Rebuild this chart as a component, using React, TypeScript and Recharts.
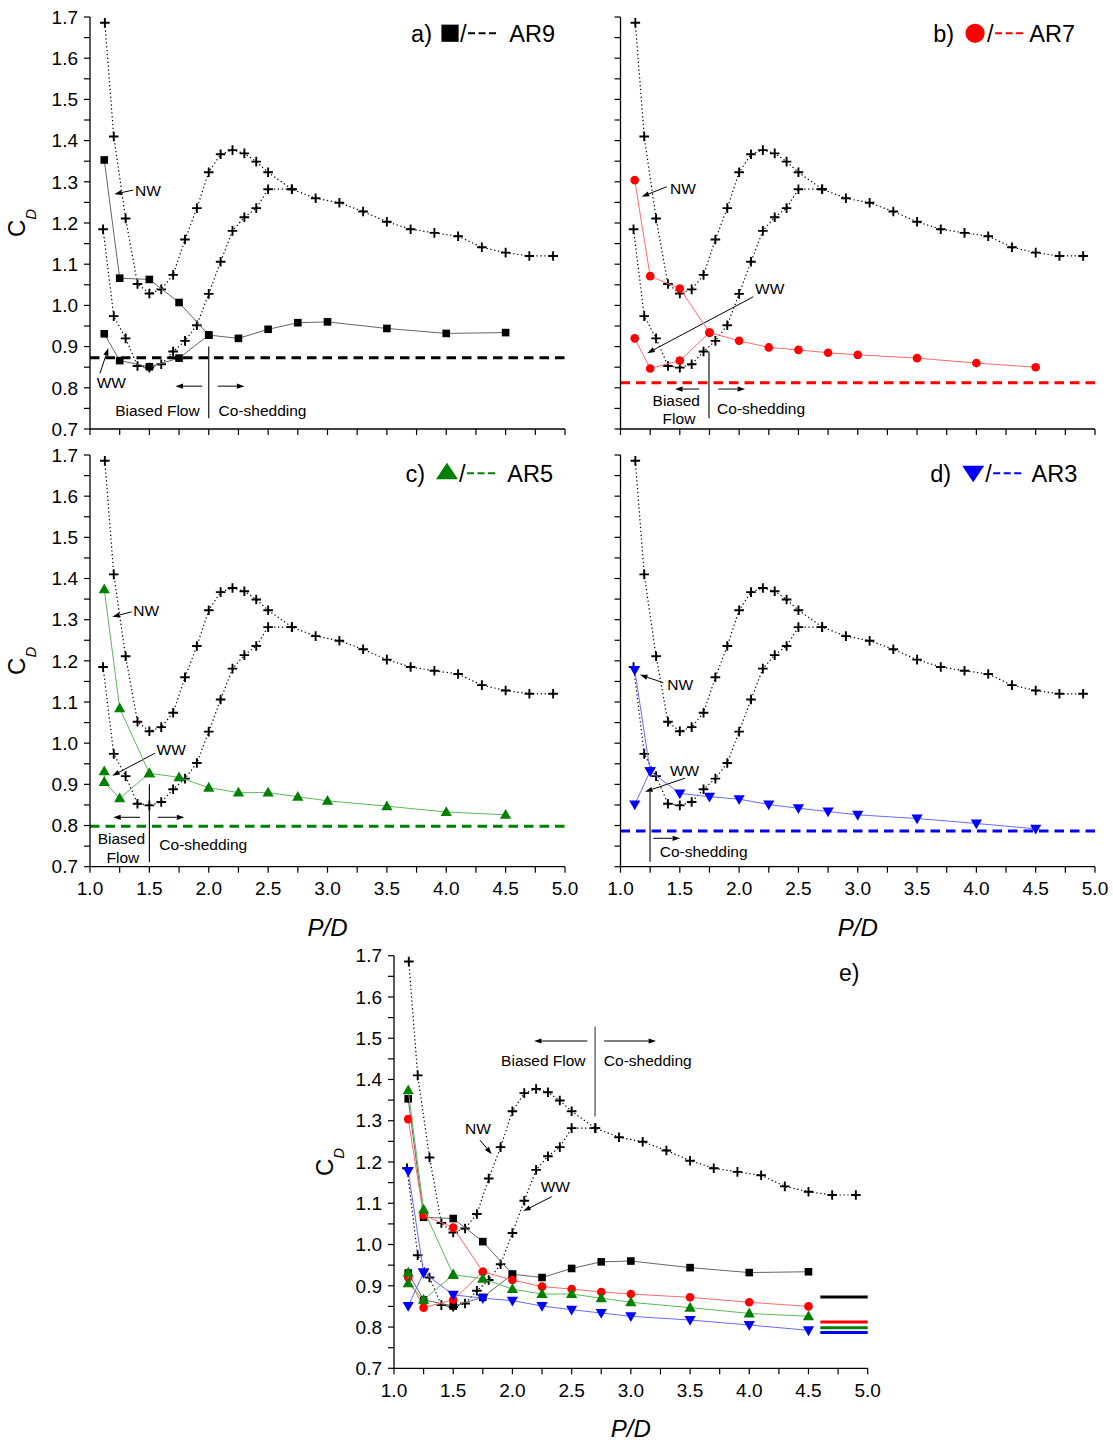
import React from 'react';
import { ScatterChart, Scatter, XAxis, YAxis, ReferenceLine, ReferenceDot, Label } from 'recharts';

const FONT = '"Liberation Sans", Arial, Helvetica, sans-serif';

// ---------- ticks ----------
const X_TICKS = [1, 1.25, 1.5, 1.75, 2, 2.25, 2.5, 2.75, 3, 3.25, 3.5, 3.75, 4, 4.25, 4.5, 4.75, 5];
const Y_TICKS = [0.7, 0.75, 0.8, 0.85, 0.9, 0.95, 1.0, 1.05, 1.1, 1.15, 1.2, 1.25, 1.3, 1.35, 1.4, 1.45, 1.5, 1.55, 1.6, 1.65, 1.7];

// ---------- reference data (crosses) ----------
const CROSS_NW_X = [1.125, 1.2, 1.3, 1.4, 1.5, 1.6, 1.7, 1.8, 1.9, 2.0, 2.1, 2.2, 2.3, 2.4, 2.5, 2.7, 2.9, 3.1, 3.3, 3.5, 3.7, 3.9, 4.1, 4.3, 4.5, 4.7, 4.9];
const CROSS_NW_Y = [1.686, 1.41, 1.211, 1.052, 1.029, 1.039, 1.074, 1.16, 1.236, 1.323, 1.367, 1.377, 1.369, 1.349, 1.323, 1.282, 1.26, 1.249, 1.228, 1.203, 1.185, 1.176, 1.168, 1.141, 1.128, 1.12, 1.12];
const CROSS_WW_X = [1.11, 1.2, 1.3, 1.4, 1.5, 1.6, 1.7, 1.8, 1.9, 2.0, 2.1, 2.2, 2.3, 2.4, 2.5, 2.7];
const CROSS_WW_Y = [1.185, 0.974, 0.92, 0.853, 0.849, 0.857, 0.888, 0.914, 0.952, 1.028, 1.106, 1.181, 1.214, 1.236, 1.282, 1.282];

// ---------- AR series ----------
const AR_NW_X = [1.12, 1.25, 1.5, 1.75, 2.0, 2.25, 2.5, 2.75, 3.0, 3.5, 4.0, 4.5];
const AR9_NW_Y = [1.353, 1.066, 1.063, 1.007, 0.928, 0.92, 0.942, 0.958, 0.96, 0.944, 0.932, 0.934];
const AR9_WW_X = [1.12, 1.25, 1.5, 1.75, 2.0];
const AR9_WW_Y = [0.931, 0.866, 0.851, 0.872, 0.928];
const AR7_NW_Y = [1.304, 1.071, 1.041, 0.934, 0.914, 0.898, 0.892, 0.885, 0.88, 0.872, 0.86, 0.85];
const AR7_WW_X = [1.12, 1.25, 1.5, 1.75];
const AR7_WW_Y = [0.92, 0.847, 0.866, 0.934];
const AR5_NW_Y = [1.374, 1.085, 0.927, 0.917, 0.892, 0.88, 0.88, 0.87, 0.86, 0.847, 0.833, 0.826];
const AR5_WW_X = [1.12, 1.12, 1.25, 1.5];
const AR5_WW_Y = [0.932, 0.906, 0.866, 0.927];
const AR3_NW_Y = [1.178, 0.932, 0.878, 0.87, 0.864, 0.851, 0.842, 0.834, 0.826, 0.817, 0.805, 0.792];
const AR3_WW_X = [1.12, 1.25];
const AR3_WW_Y = [0.851, 0.932];

// isolated cylinder values
const ISO_AR9 = 0.873;
const ISO_AR7 = 0.812;
const ISO_AR5 = 0.798;
const ISO_AR3 = 0.787;
const SHORT_LINE_X = [4.6, 5.0];

const zip = (xs: number[], ys: number[]) => xs.map((x, i) => ({ x, y: ys[i] }));

const crossNW = zip(CROSS_NW_X, CROSS_NW_Y);
const crossWW = zip(CROSS_WW_X, CROSS_WW_Y);

const RED = '#ff0000';
const GREEN = '#008000';
const BLUE = '#0000ff';

type Kind = 'square' | 'circle' | 'tri' | 'invtri';

const markerShape = (kind: Kind, color: string) => (p: any) => {
  const { cx, cy } = p;
  if (cx == null || cy == null) return <g />;
  if (kind === 'square') return <rect x={cx - 3.8} y={cy - 3.8} width={7.6} height={7.6} fill={color} />;
  if (kind === 'circle') return <circle cx={cx} cy={cy} r={4.3} fill={color} />;
  if (kind === 'tri')
    return <polygon points={`${cx},${cy - 5.8} ${cx - 5.6},${cy + 4} ${cx + 5.6},${cy + 4}`} fill={color} />;
  return <polygon points={`${cx - 5.6},${cy - 4} ${cx + 5.6},${cy - 4} ${cx},${cy + 5.8}`} fill={color} />;
};

const crossShape = (p: any) => {
  const { cx, cy } = p;
  if (cx == null || cy == null) return <g />;
  return (
    <path d={`M${cx - 4.8},${cy}H${cx + 4.8}M${cx},${cy - 4.8}V${cy + 4.8}`} stroke="#000" strokeWidth={1.9} fill="none" />
  );
};

type Series = { key: string; nw: { x: number; y: number }[]; ww: { x: number; y: number }[]; kind: Kind; color: string; lineColor: string; iso: number };

const SERIES: Record<string, Series> = {
  ar9: { key: 'ar9', nw: zip(AR_NW_X, AR9_NW_Y), ww: zip(AR9_WW_X, AR9_WW_Y), kind: 'square', color: '#000', lineColor: '#666', iso: ISO_AR9 },
  ar7: { key: 'ar7', nw: zip(AR_NW_X, AR7_NW_Y), ww: zip(AR7_WW_X, AR7_WW_Y), kind: 'circle', color: RED, lineColor: '#ff6a6a', iso: ISO_AR7 },
  ar5: { key: 'ar5', nw: zip(AR_NW_X, AR5_NW_Y), ww: zip(AR5_WW_X, AR5_WW_Y), kind: 'tri', color: GREEN, lineColor: '#5cb85c', iso: ISO_AR5 },
  ar3: { key: 'ar3', nw: zip(AR_NW_X, AR3_NW_Y), ww: zip(AR3_WW_X, AR3_WW_Y), kind: 'invtri', color: BLUE, lineColor: '#6a6aff', iso: ISO_AR3 },
};

// ---------- annotations (data coordinates) ----------
type Ann = {
  texts: { x: number; y: number; t: string; a: 'start' | 'middle' | 'end'; size?: number }[];
  arrows: number[][];
  lines: number[][];
  lineColor?: string;
};

const ANN_A: Ann = {
  texts: [
    { x: 1.379, y: 1.278, t: 'NW', a: 'start' },
    { x: 1.056, y: 0.813, t: 'WW', a: 'start' },
    { x: 1.568, y: 0.746, t: 'Biased Flow', a: 'middle' },
    { x: 2.453, y: 0.746, t: 'Co-shedding', a: 'middle' },
  ],
  arrows: [
    [1.365, 1.28, 1.205, 1.27],
    [1.084, 0.835, 1.154, 0.896],
    [1.946, 0.804, 1.72, 0.804],
    [2.075, 0.804, 2.3, 0.804],
  ],
  lines: [[2.0, 0.9, 2.0, 0.726]],
};
const ANN_B: Ann = {
  texts: [
    { x: 1.417, y: 1.284, t: 'NW', a: 'start' },
    { x: 2.134, y: 1.04, t: 'WW', a: 'start' },
    { x: 1.47, y: 0.77, t: 'Biased', a: 'middle' },
    { x: 1.493, y: 0.726, t: 'Flow', a: 'middle' },
    { x: 2.185, y: 0.75, t: 'Co-shedding', a: 'middle' },
  ],
  arrows: [
    [1.39, 1.288, 1.179, 1.264],
    [2.12, 1.021, 1.226, 0.884],
    [1.664, 0.797, 1.46, 0.797],
    [1.825, 0.797, 2.05, 0.797],
  ],
  lines: [[1.746, 0.888, 1.746, 0.726]],
};
const ANN_C: Ann = {
  texts: [
    { x: 1.365, y: 1.322, t: 'NW', a: 'start' },
    { x: 1.561, y: 0.985, t: 'WW', a: 'start' },
    { x: 1.264, y: 0.769, t: 'Biased', a: 'middle' },
    { x: 1.277, y: 0.722, t: 'Flow', a: 'middle' },
    { x: 1.954, y: 0.753, t: 'Co-shedding', a: 'middle' },
  ],
  arrows: [
    [1.351, 1.319, 1.188, 1.307],
    [1.547, 0.9755, 1.188, 0.921],
    [1.421, 0.82, 1.196, 0.82],
    [1.57, 0.82, 1.794, 0.82],
  ],
  lines: [[1.5, 0.9, 1.5, 0.711]],
};
const ANN_D: Ann = {
  texts: [
    { x: 1.395, y: 1.142, t: 'NW', a: 'start' },
    { x: 1.417, y: 0.933, t: 'WW', a: 'start' },
    { x: 1.701, y: 0.736, t: 'Co-shedding', a: 'middle' },
  ],
  arrows: [
    [1.361, 1.147, 1.164, 1.166],
    [1.544, 0.915, 1.207, 0.882],
    [1.277, 0.769, 1.502, 0.769],
  ],
  lines: [[1.249, 0.882, 1.249, 0.712]],
};
const ANN_E: Ann = {
  texts: [
    { x: 2.261, y: 1.447, t: 'Biased Flow', a: 'middle' },
    { x: 3.143, y: 1.447, t: 'Co-shedding', a: 'middle' },
    { x: 1.6, y: 1.28, t: 'NW', a: 'start' },
    { x: 2.239, y: 1.14, t: 'WW', a: 'start' },
    { x: 4.93, y: 1.659, t: 'e)', a: 'end', size: 23 },
  ],
  arrows: [
    [2.633, 1.4933, 2.182, 1.4933],
    [2.774, 1.4933, 3.213, 1.4933],
    [1.726, 1.253, 1.825, 1.219],
    [2.332, 1.116, 2.092, 1.081],
  ],
  lines: [[2.698, 1.528, 2.698, 1.31]],
  lineColor: '#777',
};

// ---------- panel titles ----------
type TitleCfg = {
  x: number; y: number; letter: string; name: string; kind: Kind; color: string; dashColor: string;
  letterEnd: number; markX: number; markY: number; slashX: number; dash1: number; dash2: number;
};
const TITLE_A: TitleCfg = { x: 4.916, y: 1.64, letter: 'a)', name: 'AR9', kind: 'square', color: '#000', dashColor: '#000', letterEnd: -123, markX: -105, markY: -8.5, slashX: -95, dash1: -87, dash2: -56 };
const TITLE_B: TitleCfg = { x: 4.832, y: 1.64, letter: 'b)', name: 'AR7', kind: 'circle', color: RED, dashColor: RED, letterEnd: -121, markX: -100, markY: -8.4, slashX: -88, dash1: -80, dash2: -52 };
const TITLE_C: TitleCfg = { x: 4.899, y: 1.635, letter: 'c)', name: 'AR5', kind: 'tri', color: GREEN, dashColor: GREEN, letterEnd: -128, markX: -106, markY: -9.5, slashX: -94, dash1: -86, dash2: -56 };
const TITLE_D: TitleCfg = { x: 4.85, y: 1.635, letter: 'd)', name: 'AR3', kind: 'invtri', color: BLUE, dashColor: BLUE, letterEnd: -126, markX: -104, markY: -9, slashX: -92, dash1: -84, dash2: -55 };

const titleMark = (kind: Kind, color: string, cx: number, cy: number) => {
  if (kind === 'square') return <rect x={cx - 8.6} y={cy - 8.6} width={17.2} height={17.2} fill={color} />;
  if (kind === 'circle') return <circle cx={cx} cy={cy} r={9.6} fill={color} />;
  if (kind === 'tri') return <polygon points={`${cx},${cy - 9.5} ${cx - 11},${cy + 7} ${cx + 11},${cy + 7}`} fill={color} />;
  return <polygon points={`${cx - 11},${cy - 7} ${cx + 11},${cy - 7} ${cx},${cy + 9.5}`} fill={color} />;
};

const renderTitle = (t: TitleCfg) => (
  <ReferenceDot
    key="title"
    x={t.x}
    y={t.y}
    r={1}
    ifOverflow="visible"
    shape={(p: any) => {
      const { cx, cy } = p;
      return (
        <g fontFamily={FONT} fontSize={23.5} fill="#000">
          <text x={cx + t.letterEnd} y={cy} textAnchor="end">{t.letter}</text>
          {titleMark(t.kind, t.color, cx + t.markX, cy + t.markY)}
          <text x={cx + t.slashX} y={cy} textAnchor="start">/</text>
          <line x1={cx + t.dash1} x2={cx + t.dash2} y1={cy - 8.5} y2={cy - 8.5} stroke={t.dashColor} strokeWidth={2} strokeDasharray="7 3.5" />
          <text x={cx} y={cy} textAnchor="end">{t.name}</text>
        </g>
      );
    }}
  />
);

const renderAnn = (ann: Ann) => {
  const out: any[] = [];
  ann.lines.forEach((l, i) =>
    out.push(
      <ReferenceLine
        key={`l${i}`}
        segment={[{ x: l[0], y: l[1] }, { x: l[2], y: l[3] }]}
        ifOverflow="visible"
        stroke={ann.lineColor || '#000'}
        strokeWidth={ann.lineColor ? 1.6 : 1.1}
      />
    )
  );
  ann.arrows.forEach((a, i) =>
    out.push(
      <ReferenceLine
        key={`a${i}`}
        segment={[{ x: a[0], y: a[1] }, { x: a[2], y: a[3] }]}
        ifOverflow="visible"
        shape={(p: any) => {
          const { x1, y1, x2, y2 } = p;
          const ang = Math.atan2(y2 - y1, x2 - x1);
          const L = 7.5, W = 2.6;
          const bx = x2 - L * Math.cos(ang), by = y2 - L * Math.sin(ang);
          const nx = -Math.sin(ang) * W, ny = Math.cos(ang) * W;
          return (
            <g>
              <line x1={x1} y1={y1} x2={bx} y2={by} stroke="#000" strokeWidth={1} />
              <polygon points={`${x2},${y2} ${bx + nx},${by + ny} ${bx - nx},${by - ny}`} fill="#000" />
            </g>
          );
        }}
      />
    )
  );
  ann.texts.forEach((t, i) =>
    out.push(
      <ReferenceDot
        key={`t${i}`}
        x={t.x}
        y={t.y}
        r={1}
        ifOverflow="visible"
        shape={(p: any) => (
          <text x={p.cx} y={p.cy} textAnchor={t.a} dominantBaseline="central" fontFamily={FONT} fontSize={t.size || 15.5} fill="#000">
            {t.t}
          </text>
        )}
      />
    )
  );
  return out;
};

// ---------- panels ----------
type PanelCfg = {
  id: string; left: number; top: number; width: number; height: number;
  margin: { top: number; right: number; bottom: number; left: number };
  yAxisWidth: number; xAxisHeight: number; showX: boolean; showY: boolean;
  xTitle: boolean; yTitle: boolean; titleX: number;
  series: string[]; iso: 'dashed' | 'short'; ann: Ann; title?: TitleCfg;
};

const PANELS: PanelCfg[] = [
  { id: 'a', left: 0, top: 0, width: 600, height: 445, margin: { top: 17, right: 35, bottom: 6, left: 0 }, yAxisWidth: 90, xAxisHeight: 10, showX: false, showY: true, xTitle: false, yTitle: true, titleX: 25, series: ['ar9'], iso: 'dashed', ann: ANN_A, title: TITLE_A },
  { id: 'b', left: 540, top: 0, width: 573, height: 445, margin: { top: 17, right: 18, bottom: 6, left: 0 }, yAxisWidth: 80.5, xAxisHeight: 10, showX: false, showY: false, xTitle: false, yTitle: false, titleX: 0, series: ['ar7'], iso: 'dashed', ann: ANN_B, title: TITLE_B },
  { id: 'c', left: 0, top: 440, width: 600, height: 500, margin: { top: 15, right: 35, bottom: 43.3, left: 0 }, yAxisWidth: 90, xAxisHeight: 30, showX: true, showY: true, xTitle: true, yTitle: true, titleX: 25, series: ['ar5'], iso: 'dashed', ann: ANN_C, title: TITLE_C },
  { id: 'd', left: 540, top: 440, width: 573, height: 500, margin: { top: 15, right: 18, bottom: 43.3, left: 0 }, yAxisWidth: 80.5, xAxisHeight: 30, showX: true, showY: false, xTitle: true, yTitle: false, titleX: 0, series: ['ar3'], iso: 'dashed', ann: ANN_D, title: TITLE_D },
  { id: 'e', left: 300, top: 930, width: 600, height: 514, margin: { top: 25.7, right: 32.3, bottom: 45.7, left: 0 }, yAxisWidth: 94, xAxisHeight: 30, showX: true, showY: true, xTitle: true, yTitle: true, titleX: 33, series: ['ar9', 'ar7', 'ar5', 'ar3'], iso: 'short', ann: ANN_E },
];

const fmtX = (v: number) => (Math.abs(v * 2 - Math.round(v * 2)) < 1e-9 ? v.toFixed(1) : '');
const fmtY = (v: number) => (Math.abs(v * 10 - Math.round(v * 10)) < 1e-6 ? v.toFixed(1) : '');
const empty = () => '';

const AXIS_LINE = { stroke: '#000', strokeWidth: 1.3 };
const TICK_LINE = { stroke: '#000', strokeWidth: 1.2 };
const TICK_STYLE = { fill: '#000', fontSize: 19, fontFamily: FONT };

function Panel({ cfg }: { cfg: PanelCfg }) {
  const list = cfg.series.map((k) => SERIES[k]);
  return (
    <div style={{ position: 'absolute', left: cfg.left, top: cfg.top, width: cfg.width, height: cfg.height }}>
      <ScatterChart width={cfg.width} height={cfg.height} margin={cfg.margin}>
        <XAxis xAxisId="top" orientation="top" type="number" dataKey="x" domain={[1, 5]} ticks={X_TICKS} interval={0} height={0} tickSize={6} tickFormatter={empty} axisLine={AXIS_LINE} tickLine={TICK_LINE} allowDataOverflow />
        <XAxis xAxisId={0} orientation="bottom" type="number" dataKey="x" domain={[1, 5]} ticks={X_TICKS} interval={0} height={cfg.xAxisHeight} tickSize={6} tickMargin={9} tickFormatter={cfg.showX ? fmtX : empty} tick={TICK_STYLE} axisLine={AXIS_LINE} tickLine={TICK_LINE} allowDataOverflow>
          {cfg.xTitle ? (
            <Label
              content={(p: any) => {
                const vb = p.viewBox || {};
                return (
                  <text x={vb.x + vb.width / 2} y={vb.y + 69} textAnchor="middle" fontFamily={FONT} fontSize={24} fontStyle="italic" fill="#000">
                    P/D
                  </text>
                );
              }}
            />
          ) : null}
        </XAxis>
        <YAxis yAxisId="right" orientation="right" type="number" dataKey="y" domain={[0.7, 1.7]} ticks={Y_TICKS} interval={0} width={0} tickSize={6} tickFormatter={empty} axisLine={AXIS_LINE} tickLine={TICK_LINE} allowDataOverflow />
        <YAxis yAxisId={0} orientation="left" type="number" dataKey="y" domain={[0.7, 1.7]} ticks={Y_TICKS} interval={0} width={cfg.yAxisWidth} tickSize={6} tickMargin={6} tickFormatter={cfg.showY ? fmtY : empty} tick={TICK_STYLE} axisLine={AXIS_LINE} tickLine={TICK_LINE} allowDataOverflow>
          {cfg.yTitle ? (
            <Label
              content={(p: any) => {
                const vb = p.viewBox || {};
                const cx = vb.x + cfg.titleX;
                const cy = vb.y + vb.height / 2;
                return (
                  <text x={cx} y={cy} transform={`rotate(-90 ${cx} ${cy})`} textAnchor="middle" fontFamily={FONT} fontSize={24} fill="#000">
                    C<tspan dy={11} fontSize={15} fontStyle="italic">D</tspan>
                  </text>
                );
              }}
            />
          ) : null}
        </YAxis>

        {cfg.iso === 'dashed'
          ? list.map((s) => (
              <ReferenceLine key={`iso-${s.key}`} y={s.iso} stroke={s.color} strokeWidth={3} strokeDasharray="9.5 6" />
            ))
          : list.map((s) => (
              <ReferenceLine
                key={`iso-${s.key}`}
                segment={[{ x: SHORT_LINE_X[0], y: s.iso }, { x: SHORT_LINE_X[1], y: s.iso }]}
                stroke={s.color}
                strokeWidth={3}
              />
            ))}

        <Scatter name="cross-nw" data={crossNW} isAnimationActive={false} line={{ stroke: '#000', strokeWidth: 1.2, strokeDasharray: '1.3 2.6' }} lineType="joint" shape={crossShape} />
        <Scatter name="cross-ww" data={crossWW} isAnimationActive={false} line={{ stroke: '#000', strokeWidth: 1.2, strokeDasharray: '1.3 2.6' }} lineType="joint" shape={crossShape} />

        {list.map((s) => (
          <Scatter key={`${s.key}-ww`} name={`${s.key}-ww`} data={s.ww} isAnimationActive={false} line={{ stroke: s.lineColor, strokeWidth: 1 }} lineType="joint" shape={markerShape(s.kind, s.color)} />
        ))}
        {list.map((s) => (
          <Scatter key={`${s.key}-nw`} name={`${s.key}-nw`} data={s.nw} isAnimationActive={false} line={{ stroke: s.lineColor, strokeWidth: 1 }} lineType="joint" shape={markerShape(s.kind, s.color)} />
        ))}

        {renderAnn(cfg.ann)}
        {cfg.title ? renderTitle(cfg.title) : null}
      </ScatterChart>
    </div>
  );
}

export default function App() {
  return (
    <div style={{ position: 'absolute', left: 0, top: 0, width: 1113, height: 1444, background: '#fff', fontFamily: FONT, overflow: 'hidden' }}>
      {PANELS.map((p) => (
        <Panel key={p.id} cfg={p} />
      ))}
    </div>
  );
}
